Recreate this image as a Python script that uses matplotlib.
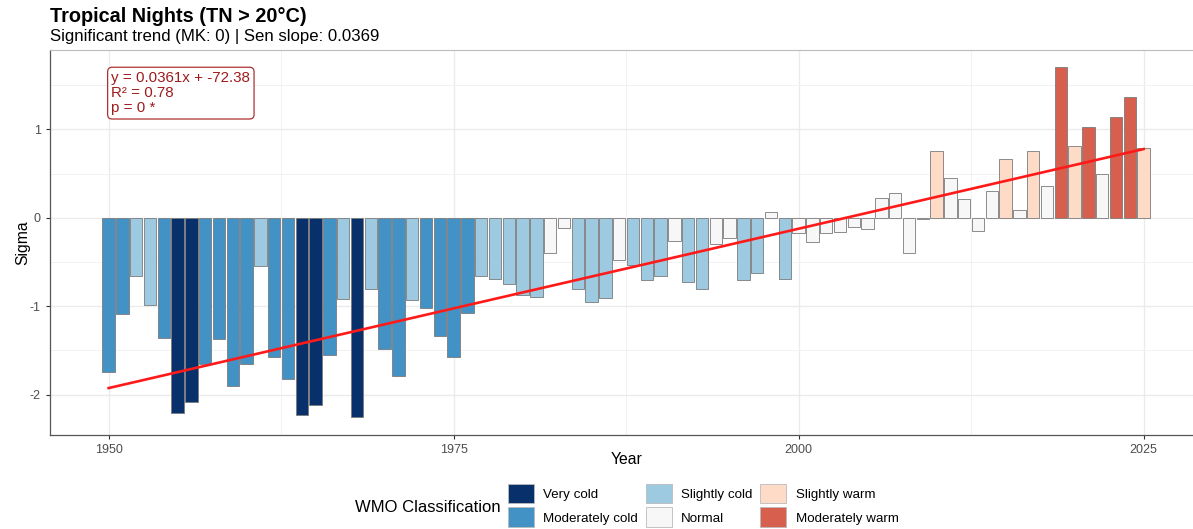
import numpy as np
import matplotlib.pyplot as plt
from matplotlib.patches import Patch

plt.rcParams['font.family'] = ['Liberation Sans', 'DejaVu Sans']
plt.rcParams['axes.unicode_minus'] = False

# Data
years = list(range(1950, 2026))
sigma = [
    -1.75, -1.09, -0.66, -0.99, -1.36, -2.21, -2.09, -1.66, -1.37, -1.90,
    -1.66, -0.55, -1.58, -1.83, -2.23, -2.12, -1.55, -0.92, -2.26, -0.81,
    -1.48, -1.79, -0.93, -1.02, -1.34, -1.58, -1.08, -0.66, -0.69, -0.75,
    -0.87, -0.90, -0.40, -0.12, -0.81, -0.95, -0.91, -0.48, -0.53, -0.71,
    -0.66, -0.26, -0.73, -0.81, -0.30, -0.23, -0.71, -0.62, 0.07, -0.69,
    -0.17, -0.28, -0.17, -0.16, -0.10, -0.13, 0.22, 0.28, -0.40, -0.01,
    0.75, 0.45, 0.21, -0.15, 0.30, 0.67, 0.09, 0.75, 0.36, 1.70,
    0.81, 1.03, 0.49, 1.14, 1.37, 0.79,
]
classes = [
    'MC', 'MC', 'SC', 'SC', 'MC', 'VC', 'VC', 'MC', 'MC', 'MC',
    'MC', 'SC', 'MC', 'MC', 'VC', 'VC', 'MC', 'SC', 'VC', 'SC',
    'MC', 'MC', 'SC', 'MC', 'MC', 'MC', 'MC', 'SC', 'SC', 'SC',
    'SC', 'SC', 'N', 'N', 'SC', 'SC', 'SC', 'N', 'SC', 'SC',
    'SC', 'N', 'SC', 'SC', 'N', 'N', 'SC', 'SC', 'N', 'SC',
    'N', 'N', 'N', 'N', 'N', 'N', 'N', 'N', 'N', 'N',
    'SW', 'N', 'N', 'N', 'N', 'SW', 'N', 'SW', 'N', 'MW',
    'SW', 'MW', 'N', 'MW', 'MW', 'SW',
]
class_codes = ['VC', 'MC', 'SC', 'N', 'SW', 'MW']
class_names = ['Very cold', 'Moderately cold', 'Slightly cold', 'Normal',
               'Slightly warm', 'Moderately warm']
class_colors = ['#08306B', '#4292C6', '#9ECAE1', '#F7F7F7', '#FDDBC7', '#D6604D']
x_ticks = [1950, 1975, 2000, 2025]
y_ticks = [-2, -1, 0, 1]

color_of = dict(zip(class_codes, class_colors))
bar_colors = [color_of[c] for c in classes]

fig = plt.figure(figsize=(11.93, 5.29), dpi=100)
ax = fig.add_axes([0.0419, 0.1777, 0.9659, 0.7278])

# grid
ax.set_axisbelow(True)
ax.set_xticks(x_ticks)
ax.set_yticks(y_ticks)
ax.set_xticks([1962.5, 1987.5, 2012.5], minor=True)
ax.set_yticks([-1.5, -0.5, 0.5, 1.5], minor=True)
ax.grid(which='major', color='#EBEBEB', linewidth=1.0)
ax.grid(which='minor', color='#F2F2F2', linewidth=0.7)
ax.tick_params(which='minor', length=0)

ax.bar(years, sigma, width=0.9, color=bar_colors, edgecolor='#7A7A7A', linewidth=0.6, zorder=2)

# linear trend
coef = np.polyfit(years, sigma, 1)
xs = np.array([years[0], years[-1]])
ax.plot(xs, np.polyval(coef, xs), color='#FF1A1A', linewidth=1.9, zorder=3)

ax.text(1950.2, 1.66, 'y = 0.0361x + -72.38\nR² = 0.78\np = 0 *',
        ha='left', va='top', fontsize=10.9, color='#9E1B1B', linespacing=1.1,
        bbox=dict(boxstyle='round,pad=0.25,rounding_size=0.3', fc='white', ec='#B03030', lw=0.9),
        zorder=4)

ax.set_xlim(1945.75, 2029.25)
ax.set_ylim(-2.458, 1.898)

for side in ['left', 'bottom']:
    ax.spines[side].set_color('#555555')
    ax.spines[side].set_linewidth(0.9)
ax.spines['top'].set_color('#BBBBBB')
ax.spines['right'].set_visible(False)
ax.tick_params(which='major', length=3, color='#333333', labelcolor='#4D4D4D', labelsize=9)

ax.set_xlabel('Year', fontsize=11.3, labelpad=-3)
ax.set_ylabel('Sigma', fontsize=11.3, labelpad=0)

fig.text(50 / 1193, 1 - 17 / 529, 'Tropical Nights (TN > 20°C)', fontsize=14.3,
         fontweight='bold', ha='left', va='center')
fig.text(50 / 1193, 1 - 37 / 529, 'Significant trend (MK: 0) | Sen slope: 0.0369',
         fontsize=12.1, ha='left', va='center')

handles = [Patch(facecolor=c, edgecolor='#BBBBBB', linewidth=0.6) for c in class_colors]
fig.legend(handles, class_names, ncol=3, loc='upper left',
           bbox_to_anchor=(501 / 1193, 1 - 477 / 529), frameon=False,
           fontsize=9.6, handlelength=1.95, handleheight=1.9,
           handletextpad=0.7, columnspacing=0.6, labelspacing=0.3, borderpad=0)
fig.text(355 / 1193, 1 - 507 / 529, 'WMO Classification', fontsize=12, ha='left', va='center')

fig.savefig('out.png', dpi=100)
